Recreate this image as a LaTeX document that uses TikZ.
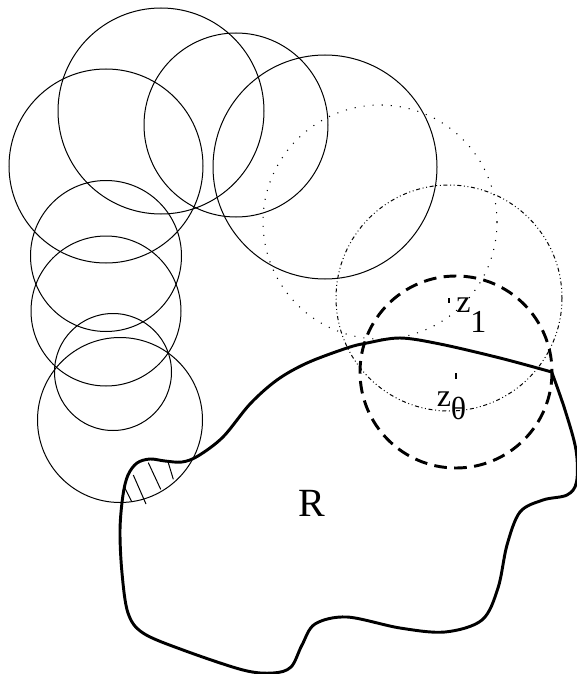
\documentclass[tikz,border=0pt]{standalone}
\usepackage{fontspec}
\setmainfont{Liberation Serif}

\begin{document}
\begin{tikzpicture}[
		  x=0.75pt, y=-0.75pt,
		  disk/.style = {line width=0.75pt},
		  dotdisk/.style = {line width=0.8pt, dash pattern=on 0.8pt off 6pt},
		  dashdotdisk/.style = {line width=0.75pt, dash pattern=on 3pt off 2pt on 0.7pt off 2pt on 0.7pt off 2pt},
		  nbhd/.style = {line width=2.2pt, dash pattern=on 9.5pt off 5.5pt},
		  boundary/.style = {line width=2.2pt, line join=round},
		  hatch/.style = {line width=0.75pt},
		  centremark/.style = {line width=1.6pt},
		  ptname/.style = {inner sep=0pt, anchor=base west, font=\fontsize{24}{24}\selectfont}
		]
		  \useasboundingbox (0,0) rectangle (577,674);

		  \coordinate (z1) at (449,298);
		  \coordinate (z0) at (456,372);

		  % chain of discs
		  \draw[disk] (106,166) circle (97);
		  \draw[disk] (161,111) circle (103);
		  \draw[disk] (236,125) circle (92);
		  \draw[disk] (325,167) circle (112);
		  \draw[disk] (106,256) circle (75.5);
		  \draw[disk] (106,311) circle (75);
		  \draw[disk] (113,372) circle (58.5);
		  \draw[disk] (120,420) circle (82.5);
		  \draw[dotdisk] (380,222) circle (117);
		  \draw[dashdotdisk] (z1) circle (113);
		  \draw[nbhd] (z0) circle (96);

		  % region R
		  \draw[boundary] plot[smooth, tension=0.55] coordinates {
			(551.7,372) (565,410) (576,450) (576.5,482) (567,495) (543,500) (520,512)
			(507,545) (498,588) (482,620) (445,632) (400,628) (347,617) (315,624)
			(302,645) (291,667) (273,673) (243,670) (183,650) (143,633) (128,613)
			(122,573) (120,530) (123,495) (128,475) (137,463) (150,459) (165,461)
			(182,462) (198,456) (223,437) (250,404) (277,380) (307,363) (347,348)
			(367,343) (400,338) (440,344) (500,358) (551.7,372)};

		  \draw[hatch] (125,488.3) -- (131.7,501.7);
		  \draw[hatch] (133.3,475) -- (146,504);
		  \draw[hatch] (148.3,462.7) -- (160.7,489.3);
		  \draw[hatch] (168.3,462.7) -- (173.3,479.3);

		  \draw[centremark] (z1) -- ++(0,5);
		  \draw[centremark] (z0) ++(0,1) -- ++(0,6);

		  \node[ptname] (lz1) at (456,312) {z\raisebox{-15pt}{1}};
		  \node[ptname] (lz0) at (436.5,406.7) {z\raisebox{-9.5pt}{θ}};
		  \node[inner sep=0pt, anchor=base, font=\fontsize{30}{30}\selectfont] (lR) at (311.5,516.7) {R};
		\end{tikzpicture}
\end{document}
